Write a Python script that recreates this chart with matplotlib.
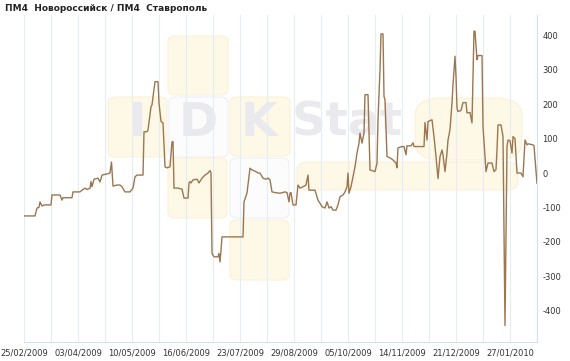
import matplotlib
matplotlib.use("Agg")
import matplotlib.pyplot as plt
from matplotlib.patches import FancyBboxPatch

title = "ПМ4  Новороссийск / ПМ4  Ставрополь"

# observation position (sessions from start) and spread value
pos = [0, 11, 13, 15, 16, 18, 20, 27, 28, 36, 38, 39, 48, 49, 56, 58, 61, 63, 66, 67,
       68, 70, 74, 76, 78, 84, 86, 87.5, 89, 93, 96, 98, 101, 106, 109, 111, 113, 119,
       120, 123, 124, 127, 128, 131, 134, 135, 137, 139, 141, 143, 146, 148, 149, 150,
       154, 158, 160, 164, 165, 166, 167, 169, 173, 175, 178, 181, 184, 186, 187, 188,
       190, 194, 195, 196, 197, 198, 219, 220, 223, 226, 228, 232, 234, 236, 239, 242,
       244, 246, 248, 251, 256, 261, 263, 265, 266, 267, 269, 272, 274, 276, 279, 282,
       284, 285, 291, 294, 296, 298, 301, 303, 305, 307, 309, 312, 314, 316, 319, 321,
       323, 324, 325, 327, 329, 331, 333, 335, 336, 338, 340, 341, 344, 346, 351, 353,
       354, 356, 357, 359, 360, 361, 363, 366, 369, 372, 373, 374, 378, 380, 382, 383,
       387, 389, 390, 400, 401, 403, 404, 408, 410, 412, 414, 416, 418, 419, 421, 423,
       424, 426, 428, 429, 431, 432, 433, 434, 437, 439, 442, 443, 446, 448, 450, 451,
       453, 454, 458, 459, 462, 464, 468, 470, 472, 473, 474, 477, 479, 481, 483, 484,
       486, 488, 489, 491, 493, 497, 499, 501, 503, 504, 509, 510, 513]
spread = [-125, -125, -102, -100, -84, -96, -93, -93, -64, -64, -79, -72, -72, -55, -55,
          -50, -44, -48, -44, -25, -40, -18, -15, -26, -6, -2, 0, 32, -38, -35, -35, -40,
          -55, -55, -44, -11, -6, -6, 120, 120, 125, 193, 198, 266, 266, 204, 150, 146,
          18, 15, 18, 91, 91, -44, -44, -47, -73, -73, -29, -25, -29, -20, -18, -29, -15,
          -6, 0, 7, 0, -234, -244, -244, -234, -259, -225, -186, -186, -84, -58, 14, 9,
          4, 0, 0, -15, -18, -15, -20, -55, -57, -59, -55, -57, -84, -59, -57, -93, -93,
          -35, -44, -40, -35, -6, -50, -50, -79, -88, -98, -102, -84, -102, -98, -108,
          -108, -93, -69, -64, -55, -40, 0, -59, -40, -11, 18, 58, 87, 116, 87, 116, 228,
          228, 9, 4, 29, 155, 300, 405, 405, 223, 213, 48, 44, 38, 29, 15, 73, 77, 77, 53,
          79, 79, 88, 77, 77, 147, 96, 150, 155, 106, 48, -16, 48, 67, 53, 4, 58, 96, 126,
          204, 257, 340, 281, 189, 179, 182, 205, 205, 175, 176, 146, 413, 413, 330, 342,
          342, 135, 4, 29, 29, 4, 10, 67, 140, 140, 106, -444, 77, 96, 94, 58, 106, 100,
          0, 0, -11, 96, 82, 85, 82, 79, -30]

tick_pos = [0, 54, 108, 162, 216, 270, 324, 378, 432, 486]
tick_labels = ["25/02/2009", "03/04/2009", "10/05/2009", "16/06/2009", "23/07/2009",
               "29/08/2009", "05/10/2009", "14/11/2009", "21/12/2009", "27/01/2010"]
y_ticks = [-400, -300, -200, -100, 0, 100, 200, 300, 400]

W, H = 570, 361
fig = plt.figure(figsize=(W / 100, H / 100), dpi=100)
fig.patch.set_facecolor("white")

def fbox(x0, y0, x1, y1, fc, ec, r=8):
    p = FancyBboxPatch((x0 / W, 1 - y1 / H), (x1 - x0) / W, (y1 - y0) / H,
                       boxstyle=f"round,pad=0,rounding_size={r / W}",
                       transform=fig.transFigure, facecolor=fc, edgecolor=ec,
                       linewidth=0.8, zorder=-2)
    fig.patches.append(p)

yel, yel_e = "#fef8e7", "#fbf1d8"
wht, wht_e = "#fcfcfd", "#eef0f5"
fbox(168, 36, 228, 95, yel, yel_e)
fbox(108, 97, 167, 157, yel, yel_e)
fbox(169, 97, 228, 157, wht, wht_e)
fbox(230, 97, 290, 156, yel, yel_e)
fbox(168, 158, 227, 218, yel, yel_e)
fbox(230, 158, 289, 218, wht, wht_e)
fbox(230, 220, 289, 280, yel, yel_e)
fbox(415, 98, 522, 160, yel, yel_e, r=28)
fbox(297, 162, 518, 190, yel, yel_e, r=12)

gl = "#eaeaee"
for ch, cx in [("I", 137), ("D", 198), ("K", 259)]:
    fig.text(cx / W, 1 - 123 / H, ch, ha="center", va="center", fontsize=34,
             fontweight="bold", color=gl, zorder=-1)
fig.text(292 / W, 1 - 123 / H, "Stat", ha="left", va="center", fontsize=34,
         fontweight="bold", color=gl, zorder=-1)

ax = fig.add_axes([24 / W, 1 - 342 / H, (537 - 24) / W, (342 - 15) / H])
ax.set_facecolor("none")
ax.plot(pos, spread, color="#9b7750", linewidth=1.0, zorder=3)

ax.set_xlim(0, 513)
ax.set_ylim(-492, 460)

ax.set_xticks(tick_pos)
ax.set_xticklabels(tick_labels)
ax.set_xticks([27 * i for i in range(20)], minor=True)
ax.grid(True, axis="x", which="both", color="#e4edf5", linewidth=0.8)
ax.tick_params(axis="x", which="both", length=0, pad=5, labelsize=6, labelcolor="#333333")

ax.yaxis.tick_right()
ax.set_yticks(y_ticks)
ax.set_yticklabels([str(v) for v in y_ticks])
ax.tick_params(axis="y", length=0, pad=4, labelsize=6, labelcolor="#333333")
for lbl in ax.get_yticklabels():
    lbl.set_horizontalalignment("left")

for s in ["top", "left"]:
    ax.spines[s].set_visible(False)
for s in ["right", "bottom"]:
    ax.spines[s].set_color("#d3e2ef")
    ax.spines[s].set_linewidth(0.8)

fig.text(5 / W, 1 - 8.5 / H, title, ha="left", va="center", fontsize=6.5,
         fontweight="bold", color="#222222")

fig.savefig("out.png", dpi=100)
